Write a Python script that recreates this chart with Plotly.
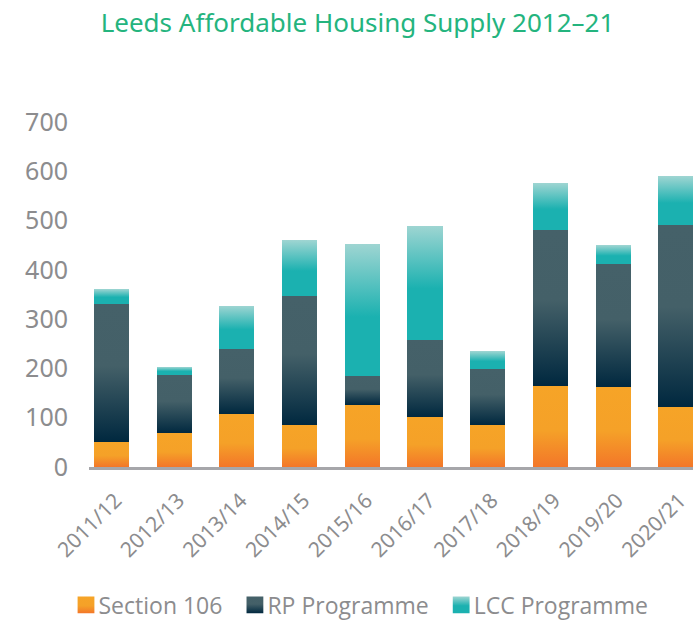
import plotly.graph_objects as go
import json

categories = ["2011/12", "2012/13", "2013/14", "2014/15", "2015/16",
              "2016/17", "2017/18", "2018/19", "2019/20", "2020/21"]
section_106 = [51, 68, 108, 85, 126, 101, 85, 165, 162, 122]
rp_programme = [280, 119, 132, 262, 58, 157, 113, 315, 249, 369]
lcc_programme = [30, 16, 87, 113, 268, 231, 37, 96, 39, 99]
y_ticks = [0, 100, 200, 300, 400, 500, 600, 700]

series = [("Section 106", section_106, "#f5a128"),
          ("RP Programme", rp_programme, "#2e4a56"),
          ("LCC Programme", lcc_programme, "#33b6b3")]

# vertical gradients (top -> bottom) per series
gradients = [
    [(0.0, "#f6a427"), (0.55, "#f5a128"), (1.0, "#f37629")],
    [(0.0, "#456169"), (0.45, "#446068"), (1.0, "#00283f")],
    [(0.0, "#9ed5d2"), (0.55, "#1bb1b0"), (1.0, "#1bb1b0")],
]

fig = go.Figure()
for name, vals, col in series:
    fig.add_trace(go.Bar(x=categories, y=vals, name=name,
                         marker=dict(color=col, line=dict(width=0))))

grey = "#8c8c8e"
fig.update_layout(
    width=693, height=621,
    barmode="stack", bargap=0.44,
    plot_bgcolor="white", paper_bgcolor="white",
    margin=dict(l=89, r=0, t=122, b=154),
    title=dict(text="Leeds Affordable Housing Supply 2012\u201321",
               font=dict(family="Noto Sans", size=26, color="#24b47e"),
               x=357.5 / 693, xanchor="center", y=1 - 23 / 621, yanchor="middle",
               xref="container", yref="container"),
    xaxis=dict(showgrid=False, showline=True, linecolor="#a6a6aa", linewidth=3,
               ticks="", tickangle=-45, ticklabelstandoff=10, ticklabelshift=4,
               tickfont=dict(family="Noto Sans", size=21, color=grey),
               range=[-0.359, 9.274]),
    yaxis=dict(range=[0, 700], tickvals=y_ticks, showgrid=False, zeroline=False,
               showline=False, ticks="", ticklabelstandoff=20,
               tickfont=dict(family="Noto Sans", size=25, color=grey)),
    legend=dict(orientation="h", xref="container", yref="container",
                x=0.5 + 9.5 / 693, xanchor="center", y=1 - 605 / 621, yanchor="middle",
                traceorder="normal", itemwidth=30,
                font=dict(family="Open Sans", size=23, color=grey)),
    showlegend=True,
)

grad_js = json.dumps(gradients)
post = """
document.body.style.margin='0';
var gd = document.getElementById('{plot_id}');
var G = %s;
function applyGrads(){
  var svg = gd.querySelector('svg.main-svg');
  var defs = svg.querySelector('defs');
  var NS = 'http://www.w3.org/2000/svg';
  G.forEach(function(stops, i){
    var id = 'bargrad' + i;
    if (document.getElementById(id)) return;
    var lg = document.createElementNS(NS, 'linearGradient');
    lg.setAttribute('id', id);
    lg.setAttribute('x1','0'); lg.setAttribute('y1','0');
    lg.setAttribute('x2','0'); lg.setAttribute('y2','1');
    stops.forEach(function(s){
      var st = document.createElementNS(NS, 'stop');
      st.setAttribute('offset', s[0]);
      st.setAttribute('stop-color', s[1]);
      lg.appendChild(st);
    });
    defs.appendChild(lg);
  });
  gd.querySelectorAll('.barlayer .trace').forEach(function(t, i){
    t.querySelectorAll('path').forEach(function(p){ p.style.fill = 'url(#bargrad' + i + ')'; });
  });
  gd.querySelectorAll('.legend .traces').forEach(function(t, i){
    t.querySelectorAll('.legendpoints path').forEach(function(p){
      p.style.fill = 'url(#bargrad' + i + ')';
      if (!p.hasAttribute('data-orig-tf')) {
        p.setAttribute('data-orig-tf', p.getAttribute('transform') || '');
      }
      var orig = p.getAttribute('data-orig-tf');
      p.setAttribute('transform', orig + ' translate(7.5,0) scale(1.4)');
    });
  });
}
applyGrads();
gd.on('plotly_afterplot', applyGrads);
""" % grad_js

fig.write_html("out.html", post_script=post, config={"displayModeBar": False})
